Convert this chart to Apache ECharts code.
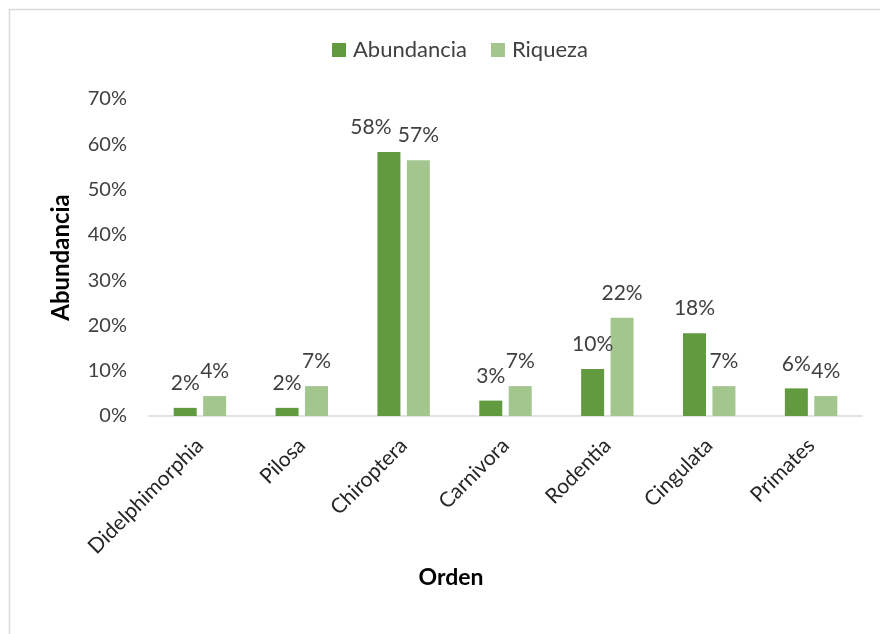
<!DOCTYPE html>
<html><head><meta charset="utf-8">
<script src="https://cdn.jsdelivr.net/npm/echarts@6/dist/echarts.min.js"></script>
<style>html,body{margin:0;padding:0;background:#fff}#c{width:880px;height:634px}</style>
</head><body><div id="c"></div>
<script>
const categories = ['Didelphimorphia','Pilosa','Chiroptera','Carnivora','Rodentia','Cingulata','Primates'];
const abundancia = [1.8, 1.8, 58.3, 3.4, 10.4, 18.3, 6.1];
const riqueza = [4.4, 6.6, 56.5, 6.6, 21.7, 6.6, 4.4];
const yTicks = [0, 10, 20, 30, 40, 50, 60, 70];
const FONT = 'Lato, "Open Sans", sans-serif';
const chart = echarts.init(document.getElementById('c'));
const lbl = {show:true, position:'top', distance:14, color:'#404040', fontSize:21, fontFamily:FONT,
  formatter: p => Math.round(p.value) + '%'};
// the Chiroptera "Abundancia" label is nudged left in the reference to avoid overlap
const abData = abundancia.map((v, i) => i === 2 ? {value:v, label:{offset:[-18,0]}} : v);
chart.setOption({
  animation:false,
  textStyle:{fontFamily:FONT},
  graphic:[
    {type:'rect', shape:{x:9.5,y:9.5,width:900,height:700}, style:{fill:'none', stroke:'#d9d9d9', lineWidth:1.5}, silent:true},
    {type:'text', x:451, y:578, style:{text:'Orden', fill:'#000', font:'bold 23px Lato, "Open Sans", sans-serif', textAlign:'center', textVerticalAlign:'middle'}}
  ],
  legend:{top:34, left:327, itemWidth:14, itemHeight:14, itemGap:24, icon:'rect',
    textStyle:{fontSize:22, color:'#404040', fontFamily:FONT, padding:[0,0,0,2]}},
  grid:{left:149, right:18, top:99, bottom:218},
  xAxis:{type:'category', data:categories,
    axisLine:{lineStyle:{color:'#d9d9d9', width:1.5}}, axisTick:{show:false},
    axisLabel:{rotate:45, color:'#262626', fontSize:21, fontFamily:FONT, margin:26}},
  yAxis:{type:'value', min:yTicks[0], max:yTicks[yTicks.length-1], interval:10,
    splitLine:{show:false}, axisLine:{show:false}, axisTick:{show:false},
    axisLabel:{formatter:v=>v+'%', color:'#404040', fontSize:20, fontFamily:FONT, margin:22},
    name:'Abundancia', nameLocation:'middle', nameGap:76,
    nameTextStyle:{fontSize:24, fontWeight:'bold', color:'#000', fontFamily:FONT}},
  series:[
    {name:'Abundancia', type:'bar', data:abData, barWidth:23, barGap:'28%', itemStyle:{color:'#629B3F'}, label:lbl},
    {name:'Riqueza', type:'bar', data:riqueza, barWidth:23, barGap:'28%', itemStyle:{color:'#A3C58E'}, label:lbl}
  ]
});
</script></body></html>
